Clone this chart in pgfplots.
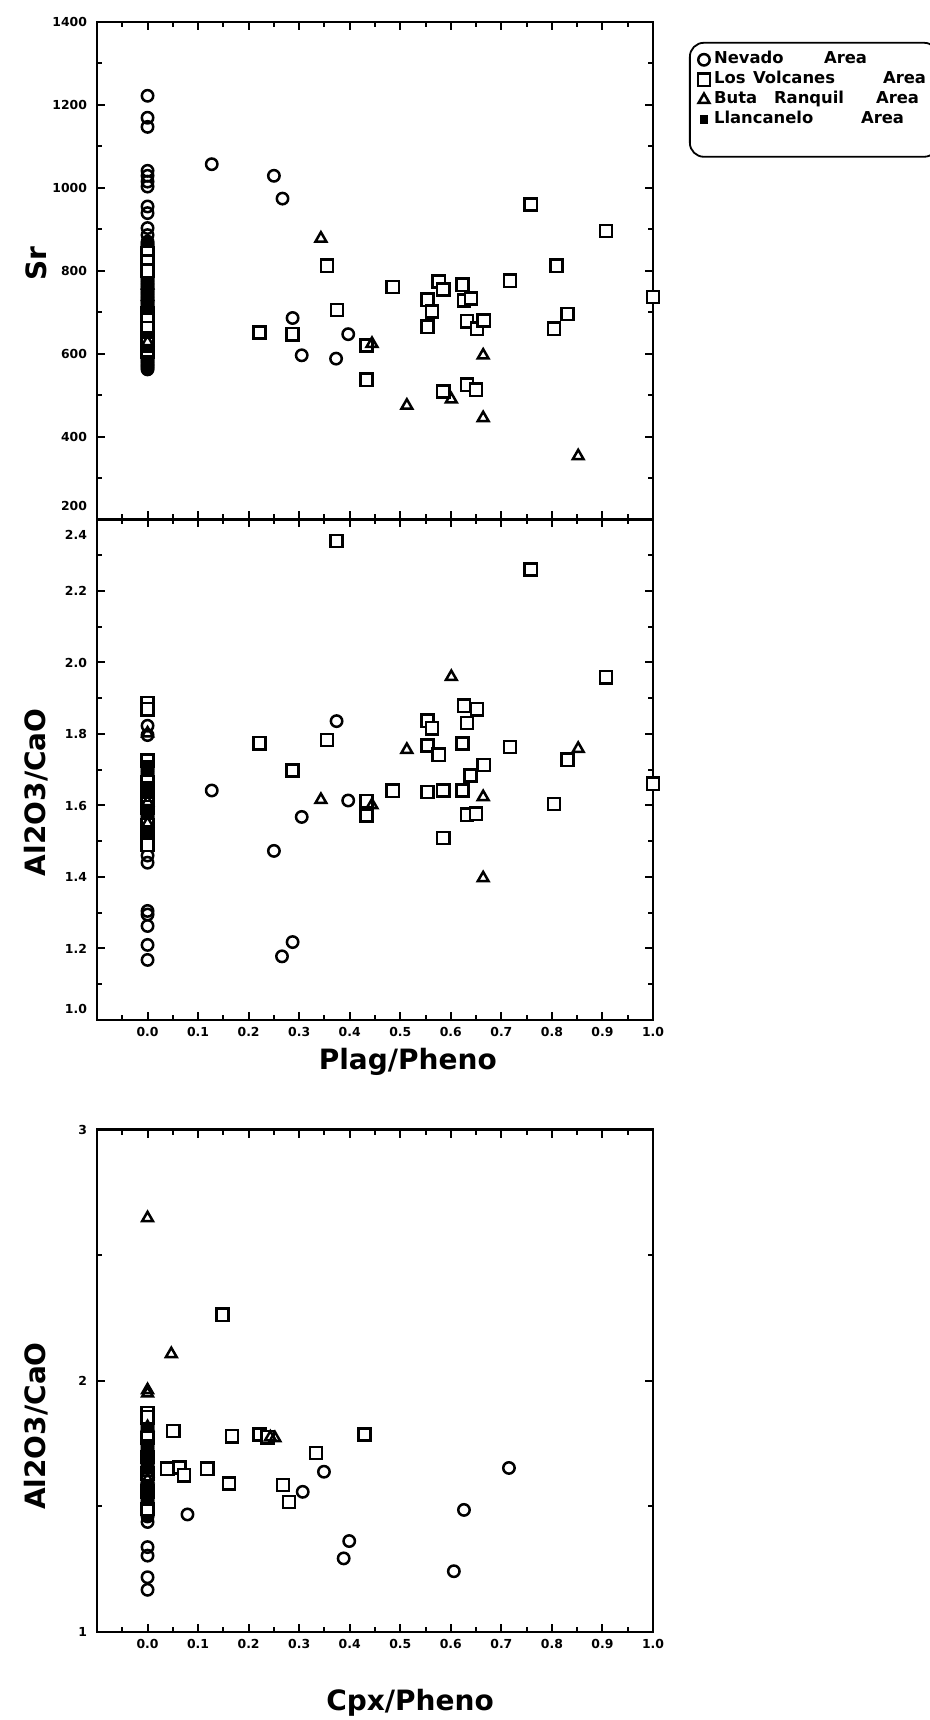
\documentclass[border=0pt]{standalone}
\usepackage{fontspec}
\setmainfont{DejaVu Sans}
\usepackage{pgfplots}
\pgfplotsset{compat=1.18}
\pgfplotsset{
  panel/.style={
    scale only axis, width=278pt,
    xmin=-0.1, xmax=1.0,
    xtick={0,0.1,0.2,0.3,0.4,0.5,0.6,0.7,0.8,0.9,1.0},
    minor xtick={-0.05,0.05,0.15,0.25,0.35,0.45,0.55,0.65,0.75,0.85,0.95},
    xticklabels={0.0,0.1,0.2,0.3,0.4,0.5,0.6,0.7,0.8,0.9,1.0},
    tick align=inside, xtick pos=both, ytick pos=both,
    major tick length=4pt, minor tick length=2.5pt,
    axis line style={line width=1.1pt},
    tick style={black, line width=1pt},
    tick label style={font=\fontsize{6.2}{7}\selectfont\bfseries},
    yticklabel style={xshift=-1.5pt},
    label style={font=\fontsize{14}{16}\selectfont\bfseries},
    clip=false,
    legend image code/.code={\draw[mark repeat=1,mark phase=1,#1] plot coordinates {(0cm,0cm)};},
  },
  nev/.style={only marks, mark=o, mark size=2.85pt, mark options={line width=1.25pt, draw=black}},
  vol/.style={only marks, mark=square*, mark size=3.05pt, mark options={line width=1.25pt, draw=black, fill=white}},
  but/.style={only marks, mark=triangle, mark size=3.1pt, mark options={line width=1.25pt, draw=black}},
  lla/.style={only marks, mark=square*, mark size=1.9pt, mark options={line width=0.6pt, draw=black, fill=black}},
}
\begin{document}
\begin{tikzpicture}[x=1pt,y=1pt]
\useasboundingbox (0,0) rectangle (465,860);
% ---------------- panel 1 : Sr ----------------
\begin{axis}[panel, at={(48.5pt,600.25pt)}, anchor=south west, height=248.75pt,
  ymin=200, ymax=1400,
  ytick={400,600,800,1000,1200,1400},
  yticklabels={400,600,800,1000,1200,1400},
  minor ytick={300,500,700,900,1100,1300},
  extra y ticks={200}, extra y tick labels={200},
  extra y tick style={yticklabel style={yshift=7pt}},
  xticklabels={},
  ylabel={Sr},
  ylabel style={at={(axis description cs:-0.109,0.515)}, anchor=center},
  legend style={at={(axis description cs:1.0647,0.96)}, anchor=north west,
    draw=black, line width=0.9pt, rounded corners=7pt,
    font=\fontsize{8.2}{9}\selectfont\bfseries, row sep=0pt,
    inner xsep=4pt, inner ysep=3.5pt,
    nodes={text height=6pt, text depth=2pt, inner ysep=1pt, inner xsep=2pt}},
  legend cell align=left,
]
\addplot[nev] table[row sep=\\] {x y\\
0 1222\\ 0 1169\\ 0 1147\\ 0 1041\\ 0 1029\\ 0 1015\\ 0 1003\\ 0 955\\ 0 939\\ 0 903\\ 0 886\\
0 870\\ 0 866\\ 0 862\\ 0 858\\ 0 854\\ 0 850\\ 0 846\\ 0 842\\ 0 838\\ 0 834\\
0 830\\ 0 826\\ 0 822\\ 0 818\\ 0 814\\ 0 810\\ 0 806\\ 0 802\\ 0 798\\ 0 794\\
0 790\\ 0 786\\ 0 782\\ 0 778\\ 0 774\\ 0 770\\ 0 766\\ 0 762\\ 0 758\\ 0 754\\
0 750\\ 0 746\\ 0 742\\ 0 738\\ 0 734\\ 0 730\\ 0 726\\ 0 722\\ 0 718\\ 0 714\\
0 710\\ 0 706\\ 0 702\\ 0 698\\ 0 694\\ 0 690\\ 0 686\\ 0 682\\ 0 678\\ 0 674\\
0 670\\ 0 666\\ 0 662\\ 0 658\\ 0 654\\ 0 650\\ 0 646\\ 0 642\\ 0 638\\ 0 634\\
0 630\\ 0 626\\ 0 622\\ 0 618\\ 0 614\\ 0 610\\ 0 606\\ 0 602\\ 0 598\\ 0 594\\
0 590\\ 0 586\\ 0 582\\ 0 578\\ 0 574\\ 0 570\\ 0 566\\ 0 562\\
0.127 1057\\ 0.250 1029\\ 0.267 974\\ 0.287 686\\ 0.305 596\\ 0.373 588\\ 0.397 647\\
};
\addlegendentry{\makebox[55pt][l]{Nevado}Area}
\addplot[vol] coordinates {
(0,843) (0,822) (0,800) (0,698) (0,690) (0,662) (0,633) (0,604)
(0.2215,651) (0.287,647) (0.355,812) (0.375,705) (0.433,620) (0.433,537) (0.485,761)
(0.554,730) (0.554,665) (0.563,702) (0.576,774) (0.585,755) (0.585,509) (0.623,766)
(0.626,728) (0.640,733) (0.632,678) (0.652,660) (0.665,680) (0.632,525) (0.650,513)
(0.717,776) (0.758,960) (0.804,660) (0.809,812) (0.831,696) (0.907,896) (1.0,737)
};
\addlegendentry{\makebox[19.5pt][l]{Los}\makebox[65pt][l]{Volcanes}Area}
\addplot[but] coordinates {
(0,765) (0,737) (0,628)
(0.343,878) (0.444,624) (0.513,475) (0.601,490) (0.664,596) (0.664,445) (0.852,353)
};
\addlegendentry{\makebox[30pt][l]{Buta}\makebox[51pt][l]{Ranquil}Area}
\addplot[lla] coordinates {
(0,565) (0,574) (0,586) (0,612) (0,645) (0,705)
};
\addlegendentry{\makebox[73.5pt][l]{Llancanelo}Area}
\addlegendimage{empty legend}
\addlegendentry{}
\end{axis}
% ---------------- panel 2 : Al2O3/CaO vs Plag ----------------
\begin{axis}[panel, at={(48.5pt,350pt)}, anchor=south west, height=250.25pt,
  ymin=1.0, ymax=2.4,
  ytick={1.2,1.4,1.6,1.8,2.0,2.2,2.4},
  yticklabels={1.2,1.4,1.6,1.8,2.0,2.2,{\raisebox{-10pt}[0pt][0pt]{2.4}}},
  minor ytick={1.1,1.3,1.5,1.7,1.9,2.1,2.3},
  extra y ticks={1.0}, extra y tick labels={1.0},
  extra y tick style={yticklabel style={yshift=5.5pt}},
  xlabel={Plag/Pheno},
  xlabel style={at={(axis description cs:0.559,-0.084)}, anchor=center},
  ylabel={Al2O3/CaO},
  ylabel style={at={(axis description cs:-0.109,0.455)}, anchor=center},
]
\addplot[nev] table[row sep=\\] {x y\\
0 1.823\\ 0 1.797\\
0 1.720\\ 0 1.715\\ 0 1.710\\ 0 1.705\\ 0 1.700\\ 0 1.695\\ 0 1.690\\ 0 1.685\\
0 1.680\\ 0 1.675\\ 0 1.670\\ 0 1.665\\ 0 1.660\\ 0 1.655\\ 0 1.650\\ 0 1.645\\
0 1.640\\ 0 1.635\\ 0 1.630\\ 0 1.625\\ 0 1.620\\ 0 1.615\\ 0 1.610\\ 0 1.605\\
0 1.600\\ 0 1.595\\ 0 1.590\\ 0 1.585\\ 0 1.580\\ 0 1.575\\ 0 1.570\\ 0 1.565\\
0 1.560\\ 0 1.555\\ 0 1.550\\ 0 1.545\\ 0 1.540\\ 0 1.535\\ 0 1.530\\ 0 1.525\\
0 1.520\\ 0 1.515\\ 0 1.510\\ 0 1.505\\ 0 1.500\\ 0 1.495\\ 0 1.490\\
0 1.46\\ 0 1.44\\ 0 1.305\\ 0 1.295\\ 0 1.263\\ 0 1.21\\ 0 1.168\\
0.127 1.642\\ 0.250 1.473\\ 0.266 1.178\\ 0.287 1.218\\ 0.305 1.568\\ 0.374 1.836\\ 0.397 1.614\\
};
\addplot[vol] coordinates {
(0,1.886) (0,1.869) (0,1.726) (0,1.665) (0,1.645) (0,1.62) (0,1.595) (0,1.545) (0,1.52) (0,1.49)
(0.2215,1.774) (0.287,1.698) (0.355,1.783) (0.374,2.340) (0.433,1.612) (0.433,1.572)
(0.485,1.641) (0.554,1.837) (0.563,1.816) (0.554,1.768) (0.576,1.742) (0.554,1.638)
(0.585,1.642) (0.585,1.509) (0.623,1.773) (0.623,1.642) (0.626,1.879) (0.632,1.831)
(0.632,1.574) (0.650,1.577) (0.639,1.684) (0.652,1.869) (0.665,1.713) (0.717,1.764)
(0.758,2.260) (0.804,1.604) (0.831,1.728) (0.907,1.959) (1.0,1.661)
};
\addplot[but] coordinates {
(0,1.802) (0,1.61) (0,1.55)
(0.343,1.616) (0.444,1.601) (0.513,1.756) (0.601,1.960) (0.664,1.624) (0.664,1.397) (0.852,1.759)
};
\addplot[lla] coordinates {
(0,1.715) (0,1.655) (0,1.63) (0,1.585) (0,1.53) (0,1.515)
};
\end{axis}
% ---------------- panel 3 : Al2O3/CaO vs Cpx ----------------
\begin{axis}[panel, at={(48.5pt,44pt)}, anchor=south west, height=251.2pt,
  ymin=1, ymax=3,
  ytick={1,2,3}, yticklabels={1,2,3},
  minor ytick={1.5,2.5},
  xlabel={Cpx/Pheno},
  xlabel style={at={(axis description cs:0.563,-0.141)}, anchor=center},
  ylabel={Al2O3/CaO},
  ylabel style={at={(axis description cs:-0.109,0.41)}, anchor=center},
]
\addplot[nev] table[row sep=\\] {x y\\
0 1.860\\ 0 1.852\\ 0 1.844\\ 0 1.836\\ 0 1.828\\ 0 1.820\\ 0 1.812\\ 0 1.804\\ 0 1.796\\ 0 1.788\\
0 1.780\\ 0 1.772\\ 0 1.764\\ 0 1.756\\ 0 1.748\\ 0 1.740\\ 0 1.732\\ 0 1.724\\ 0 1.716\\ 0 1.708\\
0 1.700\\ 0 1.692\\ 0 1.684\\ 0 1.676\\ 0 1.668\\ 0 1.660\\ 0 1.652\\ 0 1.644\\ 0 1.636\\ 0 1.628\\
0 1.620\\ 0 1.612\\ 0 1.604\\ 0 1.596\\ 0 1.588\\ 0 1.580\\ 0 1.572\\ 0 1.564\\ 0 1.556\\ 0 1.548\\
0 1.540\\ 0 1.532\\ 0 1.524\\ 0 1.516\\ 0 1.508\\ 0 1.500\\ 0 1.492\\ 0 1.484\\ 0 1.476\\ 0 1.468\\
0 1.460\\ 0 1.438\\ 0 1.338\\ 0 1.304\\ 0 1.218\\ 0 1.168\\
0.079 1.468\\ 0.307 1.558\\ 0.349 1.638\\ 0.388 1.293\\ 0.399 1.362\\ 0.606 1.242\\
0.626 1.486\\ 0.715 1.653\\
};
\addplot[vol] coordinates {
(0,1.872) (0,1.855) (0,1.772) (0,1.697) (0,1.63) (0,1.56) (0,1.49)
(0.148,2.263) (0.051,1.800) (0.039,1.650) (0.063,1.655) (0.072,1.624) (0.118,1.650)
(0.161,1.591) (0.167,1.779) (0.222,1.786) (0.238,1.775) (0.268,1.585) (0.280,1.518)
(0.333,1.712) (0.429,1.786)
};
\addplot[but] coordinates {
(0,2.648) (0,1.963) (0,1.950) (0,1.816) (0,1.633) (0,1.608)
(0.047,2.107) (0.243,1.775) (0.252,1.772)
};
\addplot[lla] coordinates {
(0,1.75) (0,1.71) (0,1.68) (0,1.645) (0,1.58) (0,1.55) (0,1.52)
};
\end{axis}
\end{tikzpicture}
\end{document}
